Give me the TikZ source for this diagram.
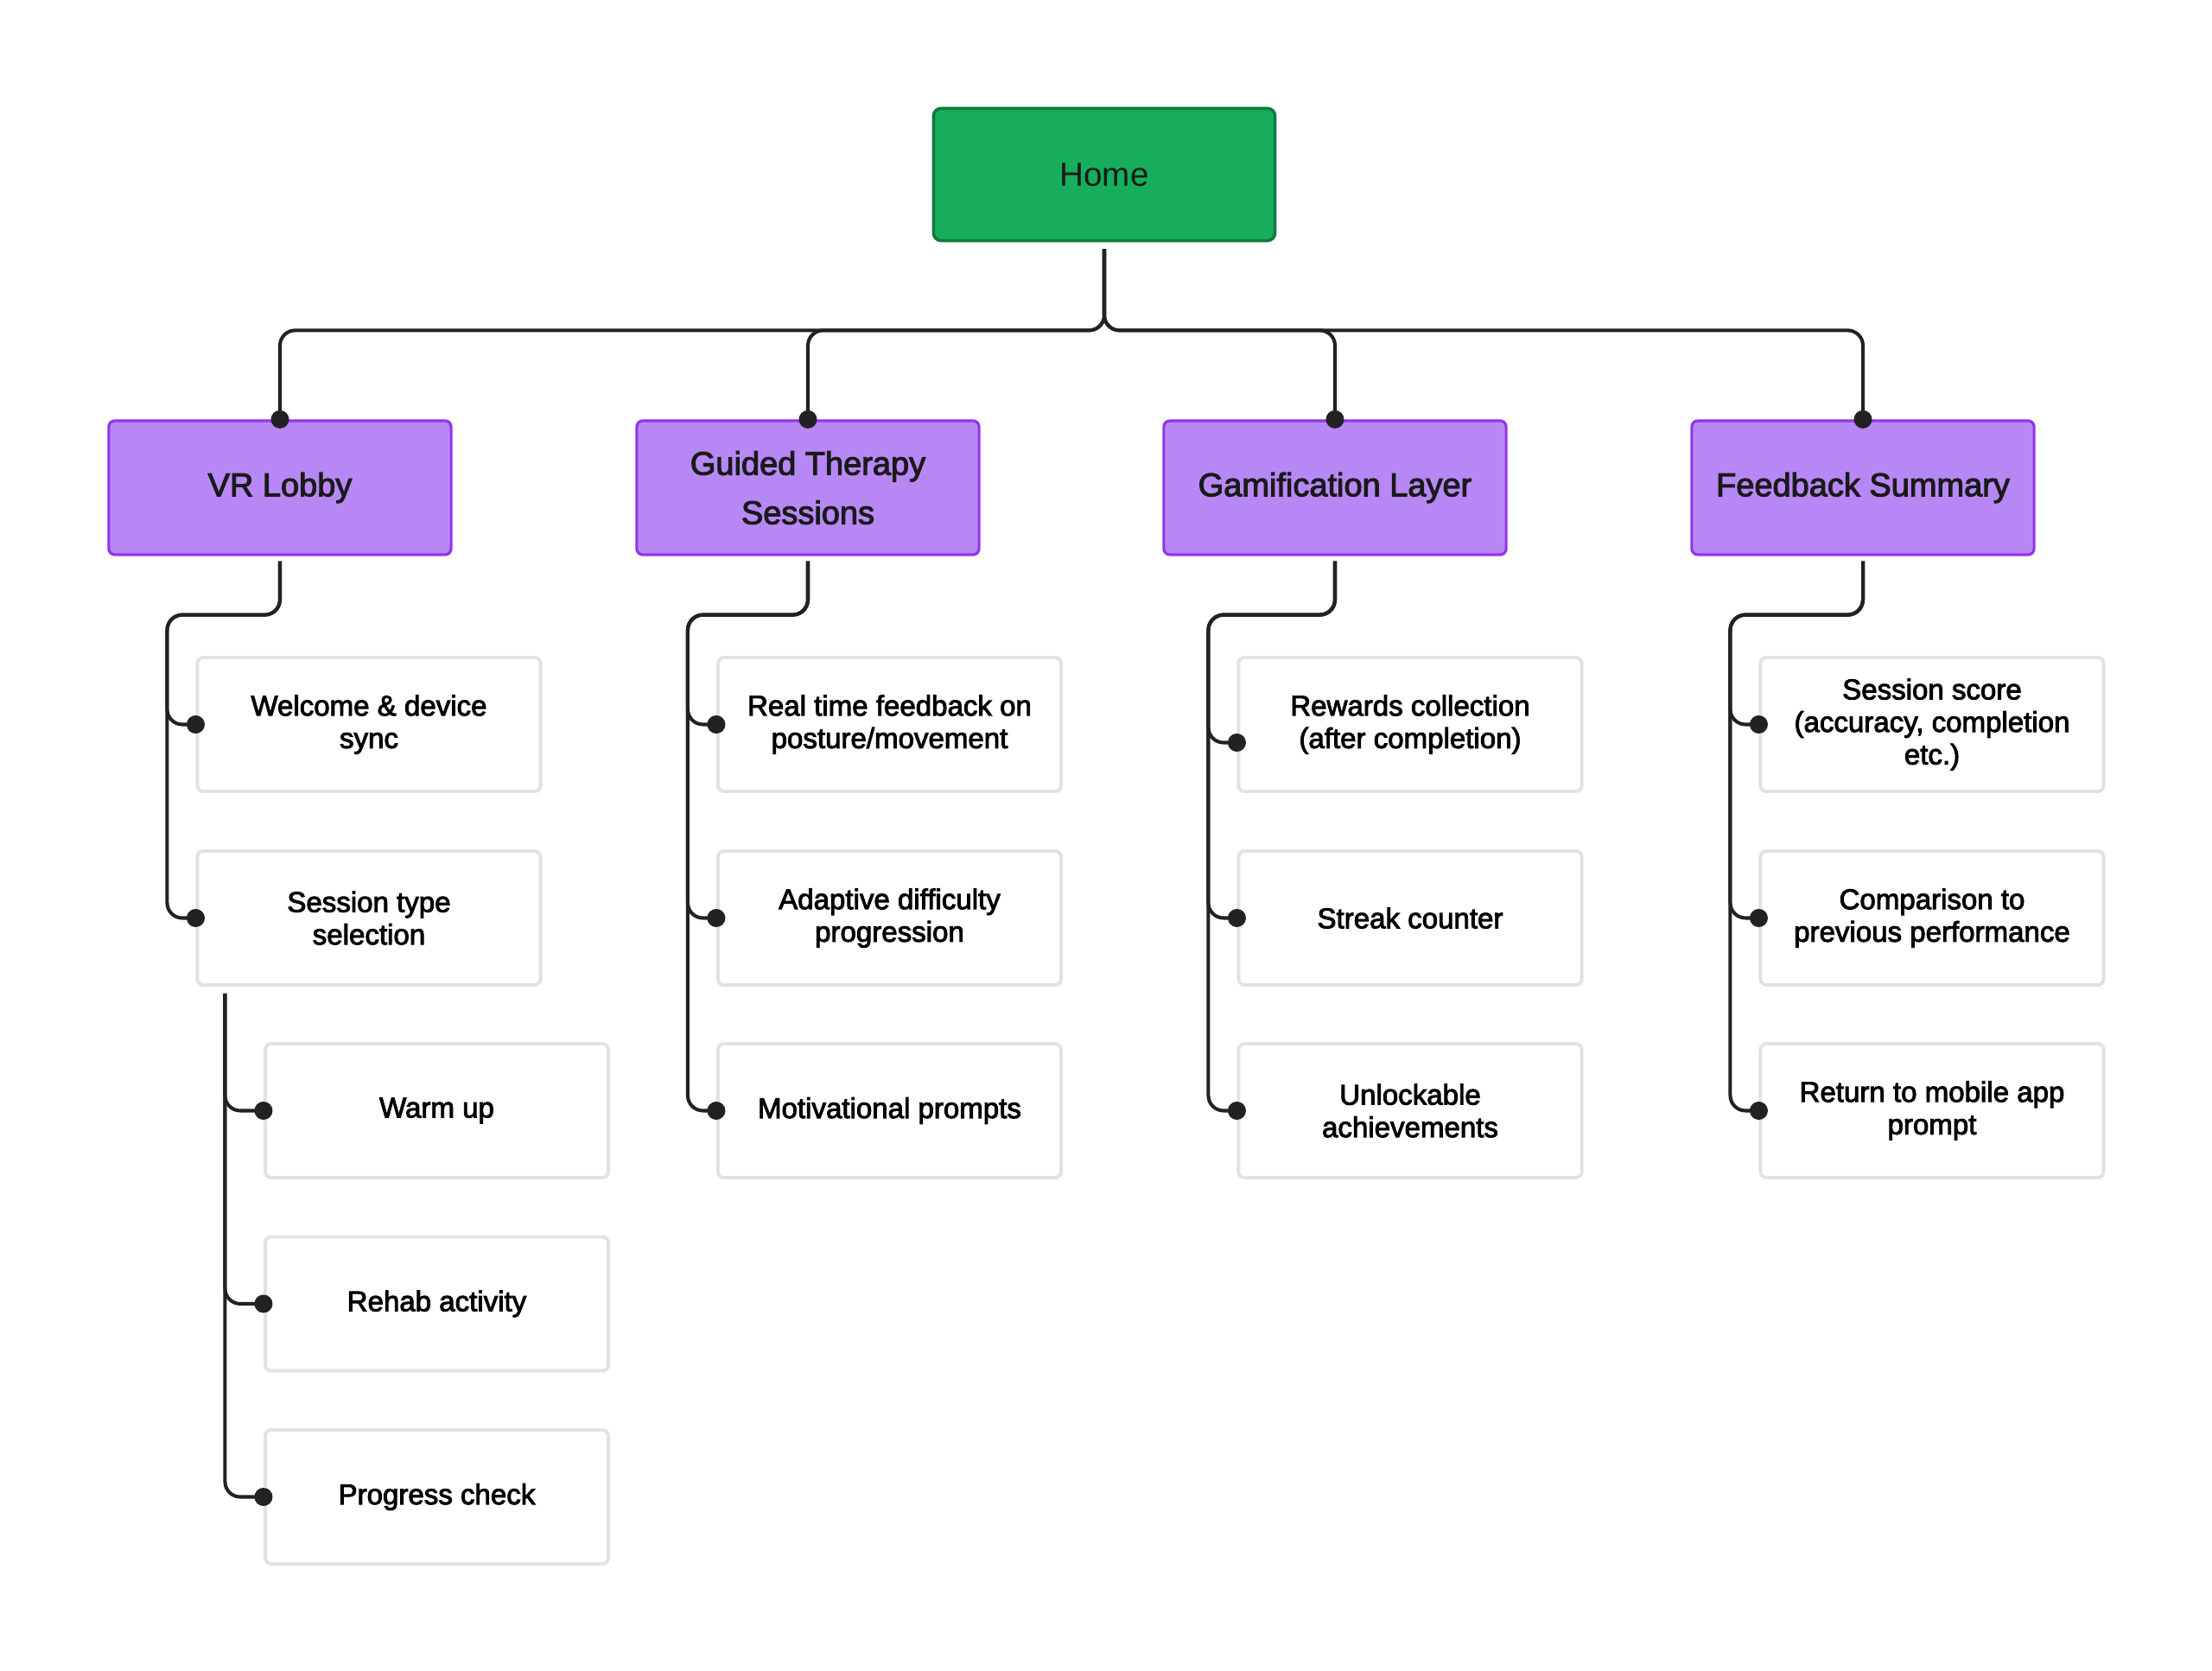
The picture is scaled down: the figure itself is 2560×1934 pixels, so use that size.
\documentclass[tikz,border=0pt]{standalone}
\usepackage{fontspec}
\setmainfont{Liberation Sans}
\newfontfamily\medfont{Liberation Sans}[FakeBold=2.8]
\usetikzlibrary{calc}
\definecolor{homegreen}{HTML}{16AE5C}
\definecolor{homeborder}{HTML}{0E7A40}
\definecolor{lonefill}{HTML}{B788F5}
\definecolor{loneborder}{HTML}{9333EA}
\definecolor{childborder}{HTML}{E2E2E2}
\definecolor{linecol}{HTML}{222222}
\definecolor{txt}{HTML}{1A1A1A}
\begin{document}
\begin{tikzpicture}[x=0.01cm,y=-0.01cm,
 homebox/.style={draw=homeborder, fill=homegreen, line width=1pt, rounded corners=2.5pt, minimum width=3.95cm, minimum height=1.53cm, inner sep=0pt, font=\fontsize{11}{14}\selectfont, text=txt},
 lonebox/.style={draw=loneborder, fill=lonefill, line width=0.9pt, rounded corners=2pt, minimum width=3.96cm, minimum height=1.55cm, inner sep=0pt, align=center, font=\medfont\fontsize{10.8}{16.2}\selectfont, text=txt},
 childbox/.style={draw=childborder, fill=white, line width=1.1pt, rounded corners=2pt, minimum width=3.97cm, minimum height=1.55cm, inner sep=0pt, align=center, font=\medfont\fontsize{9.4}{10.7}\selectfont, text=black},
 conn/.style={draw=linecol, line width=1.15pt, rounded corners=5pt},
 dot/.style={fill=linecol}
]
\fill[white] (0,0) rectangle (2560,1934);
\useasboundingbox (0,0) rectangle (2560,1934);

% root
\node[homebox] (home) at (1278,202) {Home};

% level 1
\node[lonebox] (vr) at (324,564.5) {VR Lobby};
\node[lonebox] (gt) at (935,564.5) {Guided Therapy\\Sessions};
\node[lonebox] (gm) at (1545,564.5) {Gamification Layer};
\node[lonebox] (fb) at (2156,564.5) {Feedback Summary};

% children VR
\node[childbox] (vr1) at (427,838.5) {Welcome \& device\\sync};
\node[childbox] (vr2) at (427,1062.5) {Session type\\selection};
\node[childbox] (vr2a) at (505.5,1285.5) {Warm up};
\node[childbox] (vr2b) at (505.5,1509) {Rehab activity};
\node[childbox] (vr2c) at (505.5,1732.5) {Progress check};

% children Guided
\node[childbox] (gt1) at (1029.5,838.5) {Real time feedback on\\posture/movement};
\node[childbox] (gt2) at (1029.5,1062.5) {Adaptive difficulty\\progression};
\node[childbox] (gt3) at (1029.5,1285.5) {Motivational prompts};

% children Gamification
\node[childbox] (gm1) at (1632,838.5) {Rewards collection\\(after completion)};
\node[childbox] (gm2) at (1632,1062.5) {Streak counter};
\node[childbox] (gm3) at (1632,1285.5) {Unlockable\\achievements};

% children Feedback
\node[childbox] (fb1) at (2236,838.5) {Session score\\(accuracy, completion\\etc.)};
\node[childbox] (fb2) at (2236,1062.5) {Comparison to\\previous performance};
\node[childbox] (fb3) at (2236,1285.5) {Return to mobile app\\prompt};

% home -> level 1
\coordinate (hs) at ($(home.south)+(0,8)$);
\foreach \n in {vr,gt,gm,fb}{
  \draw[conn] (hs) |- ($(\n.north)+(0,-103)$) -- (\n.north);
  \fill[dot] (\n.north) circle (0.105cm);
}

% level 1 -> children
\coordinate (gm1d) at ($(gm1.west)+(0,21)$);
\foreach \p/\c/\e in {vr/vr1/vr1.west,vr/vr2/vr2.west,gt/gt1/gt1.west,gt/gt2/gt2.west,gt/gt3/gt3.west,gm/gm1/gm1d,gm/gm2/gm2.west,gm/gm3/gm3.west,fb/fb1/fb1.west,fb/fb2/fb2.west,fb/fb3/fb3.west}{
  \coordinate (lvl) at ($(\p.south)+(0,68)$);
  \coordinate (col) at ($(\c.west)+(-33,0)$);
  \draw[conn] ($(\p.south)+(0,6)$) |- (lvl -| col) |- (\e);
  \fill[dot] (\e) circle (0.105cm);
}

% session type -> sub children
\coordinate (vr2s) at ($(vr2.south west)+(34,8)$);
\foreach \c in {vr2a,vr2b,vr2c}{
  \draw[conn] (vr2s) |- (\c.west);
  \fill[dot] (\c.west) circle (0.105cm);
}
\end{tikzpicture}
\end{document}
